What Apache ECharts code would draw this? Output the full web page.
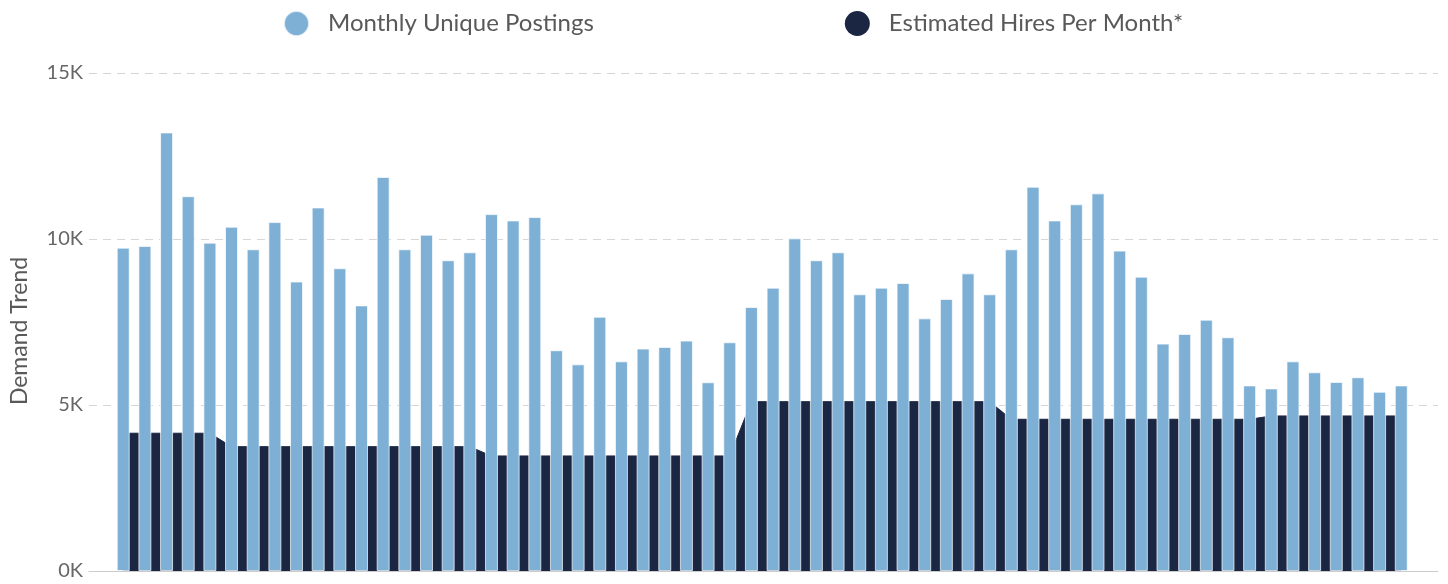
<!DOCTYPE html>
<html>
<head>
<meta charset="utf-8">
<script src="https://cdn.jsdelivr.net/npm/echarts@6/dist/echarts.min.js"></script>
<style>html,body{margin:0;padding:0;background:#fff;}#c{width:1448px;height:584px;}</style>
</head>
<body>
<div id="c"></div>
<script>
const categories = Array.from({length: 60}, (_, i) => 'Month ' + (i + 1));
const postings = [
  9740, 9790, 13210, 11290, 9890, 10370, 9690, 10510, 8720, 10950,
  9120, 8000, 11870, 9690, 10130, 9360, 9600, 10750, 10560, 10660,
  6650, 6225, 7660, 6315, 6700, 6750, 6940, 5685, 6890, 7950,
  8535, 10020, 9360, 9600, 8335, 8535, 8675, 7610, 8195, 8965,
  8335, 9690, 11575, 10560, 11045, 11375, 9650, 8865, 6850, 7140,
  7570, 7040, 5590, 5500, 6315, 5985, 5695, 5835, 5400, 5590
];
const hires = [
  4150, 4150, 4150, 4150, 4150,
  3745, 3745, 3745, 3745, 3745, 3745, 3745, 3745, 3745, 3745, 3745, 3745,
  3465, 3465, 3465, 3465, 3465, 3465, 3465, 3465, 3465, 3465, 3465, 3465,
  5100, 5100, 5100, 5100, 5100, 5100, 5100, 5100, 5100, 5100, 5100, 5100,
  4570, 4570, 4570, 4570, 4570, 4570, 4570, 4570, 4570, 4570, 4570, 4570,
  4670, 4670, 4670, 4670, 4670, 4670, 4670
];
const yTicks = [0, 5000, 10000, 15000];

const lightBlue = '#7eb0d6';
const navy = '#1a2642';
const font = 'Lato, "Noto Sans", sans-serif';

const chart = echarts.init(document.getElementById('c'), null, {renderer: 'canvas'});
chart.setOption({
  animation: false,
  backgroundColor: '#ffffff',
  legend: {
    top: 5,
    left: 278,
    itemGap: 251,
    itemWidth: 25,
    itemHeight: 25,
    icon: 'circle',
    textStyle: {fontFamily: font, fontSize: 24, color: '#595959', padding: [0, 0, 0, 14]},
    data: [
      {name: 'Monthly Unique Postings', itemStyle: {color: lightBlue}},
      {name: 'Estimated Hires Per Month*', itemStyle: {color: navy}}
    ]
  },
  grid: [
    {left: 88, right: 10, top: 73, bottom: 13, containLabel: false},
    {left: 112.4, right: 35.9, top: 73, bottom: 13, containLabel: false}
  ],
  xAxis: [
    {
      type: 'category', gridIndex: 0, data: [''],
      axisLine: {show: true, lineStyle: {color: '#cccccc', width: 1}},
      axisTick: {show: false}, axisLabel: {show: false}, splitLine: {show: false}
    },
    {
      type: 'category', gridIndex: 1, data: categories, boundaryGap: true,
      axisLine: {show: false}, axisTick: {show: false}, axisLabel: {show: false}, splitLine: {show: false}
    }
  ],
  yAxis: [
    {
      type: 'value', gridIndex: 0, min: yTicks[0], max: yTicks[yTicks.length - 1], interval: 5000,
      name: 'Demand Trend', nameLocation: 'middle', nameGap: 58,
      nameTextStyle: {fontFamily: font, fontSize: 23, color: '#595959', padding: [0, 18, 0, 0]},
      axisLine: {show: false}, axisTick: {show: false},
      axisLabel: {fontFamily: font, fontSize: 20, color: '#666666', margin: 6,
        formatter: v => (v / 1000) + 'K'},
      splitLine: {show: true, lineStyle: {color: '#d6d6d6', type: [8, 6], width: 1}}
    },
    {
      type: 'value', gridIndex: 1, min: yTicks[0], max: yTicks[yTicks.length - 1], interval: 5000,
      show: false, splitLine: {show: false}
    }
  ],
  series: [
    {
      name: 'Estimated Hires Per Month*', type: 'line', xAxisIndex: 1, yAxisIndex: 1,
      data: hires, symbol: 'none', z: 1,
      lineStyle: {color: navy, width: 1},
      itemStyle: {color: navy},
      areaStyle: {color: navy, opacity: 1}
    },
    {
      name: 'Monthly Unique Postings', type: 'bar', xAxisIndex: 1, yAxisIndex: 1,
      data: postings, barWidth: 13, z: 3,
      itemStyle: {color: lightBlue, borderColor: 'rgba(255,255,255,0.7)', borderWidth: 1}
    }
  ]
});
</script>
</body>
</html>
